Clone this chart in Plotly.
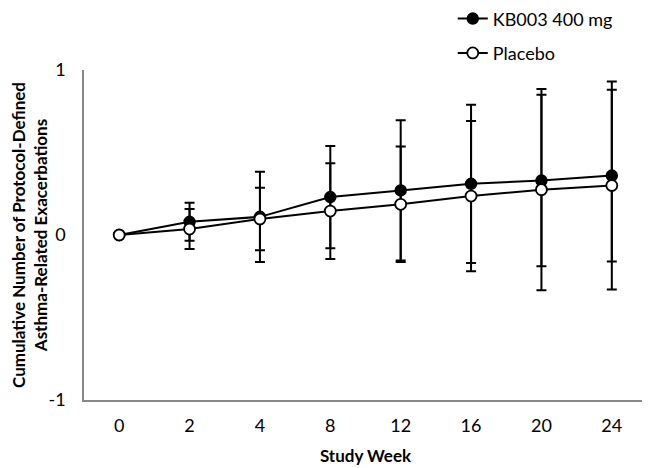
import plotly.graph_objects as go

weeks = ["0", "2", "4", "8", "12", "16", "20", "24"]
kb003_mean = [0.0, 0.08, 0.11, 0.23, 0.27, 0.31, 0.33, 0.36]
kb003_err = [0.0, 0.115, 0.273, 0.31, 0.425, 0.48, 0.52, 0.52]
placebo_mean = [0.0, 0.036, 0.097, 0.145, 0.186, 0.236, 0.275, 0.30]
placebo_err = [0.0, 0.121, 0.19, 0.29, 0.35, 0.455, 0.61, 0.63]
y_ticks = [-1, 0, 1]

FONT = "Lato, Carlito, Liberation Sans, sans-serif"

fig = go.Figure()
fig.add_trace(go.Scatter(
    x=weeks, y=kb003_mean, name="KB003 400 mg", mode="lines+markers",
    legendgroup="a",
    line=dict(color="black", width=2),
    marker=dict(symbol="circle", size=11, color="black", line=dict(color="black", width=1.5)),
    error_y=dict(type="data", array=kb003_err, visible=True, color="black", thickness=2, width=5),
))
fig.add_trace(go.Scatter(
    x=weeks, y=placebo_mean, name="Placebo", mode="lines+markers",
    legendgroup="b",
    line=dict(color="black", width=2),
    marker=dict(symbol="circle", size=11, color="white", line=dict(color="black", width=1.8)),
    error_y=dict(type="data", array=placebo_err, visible=True, color="black", thickness=2, width=5),
))

fig.update_layout(
    width=650, height=468,
    margin=dict(l=76, r=11, t=62, b=76, autoexpand=False),
    paper_bgcolor="white", plot_bgcolor="white",
    font=dict(family=FONT, color="black", size=18),
    showlegend=True,
    legend=dict(x=0.655, y=1.211, xanchor="left", yanchor="top",
                font=dict(size=18), tracegroupgap=8, bgcolor="rgba(0,0,0,0)"),
    xaxis=dict(
        type="category", categoryorder="array", categoryarray=weeks,
        range=[-0.5, 7.5], showgrid=False, zeroline=False,
        showline=True, linecolor="#888888", linewidth=1.5,
        ticks="", ticklabelstandoff=9, tickfont=dict(size=18), automargin=False,
        title=dict(text="<b>Study Week</b>", font=dict(size=17)),
    ),
    yaxis=dict(
        range=[-1, 1], tickvals=y_ticks, ticktext=[str(v) for v in y_ticks],
        showgrid=False, zeroline=False,
        showline=True, linecolor="#888888", linewidth=1.5,
        ticks="", ticklabelstandoff=13, tickfont=dict(size=18), automargin=False,
        title=dict(text="<b>Cumulative Number of Protocol-Defined<br>Asthma-Related Exacerbations</b>",
                   font=dict(size=17), standoff=16),
    ),
)

fig.write_html("out.html")
